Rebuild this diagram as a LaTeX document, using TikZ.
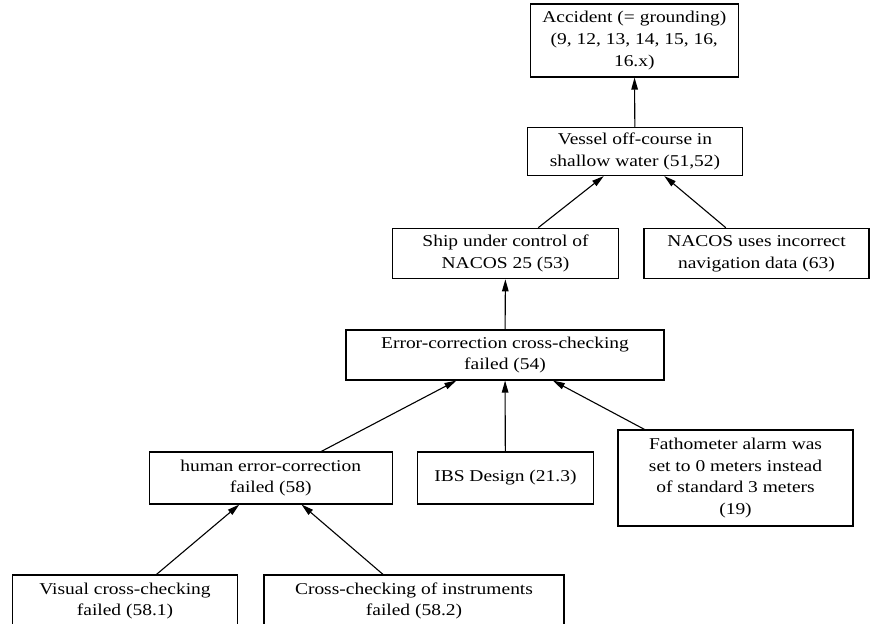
\documentclass[tikz,border=0pt]{standalone}
\usepackage{fontspec}
\setmainfont{Liberation Serif}[FakeStretch=1.18]
\usetikzlibrary{arrows.meta}
\tikzset{
  event/.style={draw, line width=1.1pt, inner sep=0pt, align=center,
    font=\fontsize{16.5}{21.8}\selectfont},
  cause/.style={line width=1.1pt, -{Triangle[length=12pt,width=6.5pt]}}
}
\begin{document}
\begin{tikzpicture}[x=1pt,y=-1pt]
\clip (0,0) rectangle (871,624);
\useasboundingbox (0,0) rectangle (871,624);

\node[event, minimum width=207.5, minimum height=73] (acc) at (634.3,40.5)
  {Accident (= grounding)\\(9, 12, 13, 14, 15, 16,\\16.x)};
\node[event, minimum width=215.4, minimum height=48.2] (ves) at (635,151.4)
  {Vessel off-course in\\shallow water (51,52)};
\node[event, minimum width=225.6, minimum height=50.5] (ship) at (505.5,253.5)
  {Ship under control of\\NACOS 25 (53)};
\node[event, minimum width=225, minimum height=50.5] (nac) at (756.5,253.5)
  {NACOS uses incorrect\\navigation data (63)};
\node[event, minimum width=318, minimum height=50] (err) at (505,355)
  {Error-correction cross-checking\\failed (54)};
\node[event, minimum width=242.7, minimum height=52] (hum) at (270.7,478)
  {human error-correction\\failed (58)};
\node[event, minimum width=176, minimum height=52] (ibs) at (505.4,478)
  {IBS Design (21.3)};
\node[event, minimum width=235, minimum height=96] (fat) at (735.5,478)
  {Fathometer alarm was\\set to 0 meters instead\\of standard 3 meters\\(19)};
\node[event, minimum width=225, minimum height=52] (vis) at (125,601)
  {Visual cross-checking\\failed (58.1)};
\node[event, minimum width=300, minimum height=52] (ins) at (414,601)
  {Cross-checking of instruments\\failed (58.2)};

% each cause points up to its effect, centre to centre
\draw[cause] (ves) -- (acc);
\draw[cause] (ship) -- (ves);
\draw[cause] (nac) -- (ves);
\draw[cause] (err) -- (ship);
\draw[cause] (hum) -- (err);
\draw[cause] (ibs) -- (err);
\draw[cause] (fat) -- (err);
\draw[cause] (vis) -- (hum);
\draw[cause] (ins) -- (hum);
\end{tikzpicture}
\end{document}
